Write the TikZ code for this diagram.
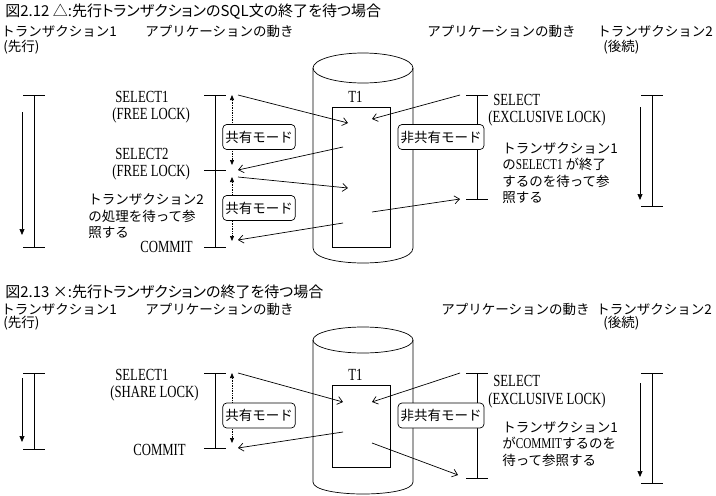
\documentclass[tikz,border=0pt]{standalone}
\usepackage{fontspec}
\usepackage{tikz}
\usetikzlibrary{arrows.meta}
\newfontfamily\jpfont{Noto Sans CJK JP}
\newfontfamily\ttlfont[RawFeature=+palt]{Noto Sans CJK JP}
\newfontfamily\latfont[FakeStretch=0.75]{Liberation Serif}
\newcommand{\jpn}{\jpfont\fontsize{13.5}{16.5}\selectfont}
\newcommand{\ttln}{\ttlfont\fontsize{15}{16}\selectfont}
\newcommand{\latn}{\latfont\fontsize{17}{16.5}\selectfont}
\newcommand{\latb}[1]{{\latfont\fontsize{15}{16.5}\selectfont #1}}

\begin{document}
\begin{tikzpicture}[x=1pt,y=-1pt,line width=0.7pt,>={Straight Barb[length=5pt,width=8pt]},
  lbl/.style={inner sep=0pt,anchor=west,font=\jpn,align=left},
  cmd/.style={inner sep=0pt,anchor=west,font=\latn,text height=12pt,text depth=1pt},
  mode/.style={draw,rounded corners=4pt,fill=white,inner sep=2.5pt,minimum height=25pt,font=\jpn},
  span/.style={densely dotted,{Triangle[length=5pt,width=4pt]}-{Triangle[length=5pt,width=4pt]}},
  flow/.style={-{Triangle[length=6pt,width=5pt]}}]
  \useasboundingbox (0,0) rectangle (716,496);
  % ---------- Fig 2.12
  \node[lbl,font=\ttln] (ttlA) at (5,11.5) {図2.12 △:先行トランザクションのSQL文の終了を待つ場合};
  \node[lbl] (t1A) at (1,31) {トランザクション1};
  \node[lbl] (s1A) at (3,47) {(先行)};
  \node[lbl] (apLA) at (145,31) {アプリケーションの動き};
  \node[lbl] (apRA) at (427,31) {アプリケーションの動き};
  \node[lbl] (t2A) at (597,31) {トランザクション2};
  \node[lbl] (s2A) at (603,47) {(後続)};
  % table T1 in a cylinder
  \draw (363,68) ellipse [x radius=50,y radius=15];
  \draw (313,68)--(313,248) .. controls (313,268) and (413,268) .. (413,248)--(413,68);
  \draw (332,107) rectangle (390,247);
  \node[cmd] (tabA) at (348,97) {T1};
  % time lines
  \foreach \x/\a/\b in {34/95/247,215/95/247,477/95/199,652/95/206}
    {\draw (\x-11,\a)--(\x+11,\a) (\x,\a)--(\x,\b) (\x-11,\b)--(\x+11,\b);}
  \draw (204,170)--(226,170);
  \coordinate (l1A) at (22,112); \coordinate (l2A) at (22,235);
  \coordinate (r1A) at (640,107); \coordinate (r2A) at (640,200);
  \draw[flow] (l1A)--(l2A);
  \draw[flow] (r1A)--(r2A);
  % shared / exclusive spans
  \coordinate (m1A) at (232,95); \coordinate (m2A) at (232,165);
  \coordinate (m3A) at (232,177); \coordinate (m4A) at (232,241);
  \draw[span] (m1A)--(m2A);
  \draw[span] (m3A)--(m4A);
  \node[mode] (shA) at (259,137) {共有モード};
  \node[mode] (sh2A) at (259,208) {共有モード};
  \node[mode] (exA) at (441,137) {非共有モード};
  % statements
  \node[cmd] (sel1A) at (115,97) {SELECT1};
  \node[cmd] (fl1A) at (112,114) {(FREE LOCK)};
  \node[cmd] (sel2A) at (115,154) {SELECT2};
  \node[cmd] (fl2A) at (112,171) {(FREE LOCK)};
  \node[lbl] (wt1A) at (88,216.5) {トランザクション2\\の処理を待って参\\照する};
  \node[cmd] (comA) at (140,247) {COMMIT};
  \node[cmd] (selA) at (493,100) {SELECT};
  \node[cmd] (xlA) at (488,117) {(EXCLUSIVE LOCK)};
  \node[lbl] (wt2A) at (502,173) {トランザクション1\\の\latb{SELECT1} が終了\\するのを待って参\\照する};
  % requests and results
  \coordinate (a1) at (238,95);  \coordinate (b1) at (348,123);
  \coordinate (b2) at (343,147); \coordinate (a2) at (238,170);
  \coordinate (a3) at (238,177); \coordinate (b3) at (348,188);
  \coordinate (b4) at (343,223); \coordinate (a4) at (238,240);
  \coordinate (c1) at (460,95);  \coordinate (d1) at (372,119);
  \coordinate (d2) at (372,212); \coordinate (c2) at (460,199);
  \draw[->] (a1)--(b1);
  \draw[->] (b2)--(a2);
  \draw[->] (a3)--(b3);
  \draw[->] (b4)--(a4);
  \draw[->] (c1)--(d1);
  \draw[->] (d2)--(c2);
  % ---------- Fig 2.13
  \node[lbl,font=\ttln] (ttlB) at (5,291.5) {図2.13 ×:先行トランザクションの終了を待つ場合};
  \node[lbl] (t1B) at (1,309) {トランザクション1};
  \node[lbl] (s1B) at (3,323) {(先行)};
  \node[lbl] (apLB) at (145,309) {アプリケーションの動き};
  \node[lbl] (apRB) at (441,309) {アプリケーションの動き};
  \node[lbl] (t2B) at (596,309) {トランザクション2};
  \node[lbl] (s2B) at (603,323) {(後続)};
  % table T1 in a cylinder
  \draw (363,340) ellipse [x radius=50,y radius=13];
  \draw (313,340)--(313,482) .. controls (313,498) and (413,498) .. (413,482)--(413,340);
  \draw (332,385) rectangle (390,467);
  \node[cmd] (tabB) at (348,375) {T1};
  % time lines
  \foreach \x/\a/\b in {34/373/449,215/373/448,477/373/478,652/373/483}
    {\draw (\x-11,\a)--(\x+11,\a) (\x,\a)--(\x,\b) (\x-11,\b)--(\x+11,\b);}
  \coordinate (l1B) at (22,378); \coordinate (l2B) at (22,442);
  \coordinate (r1B) at (640,383); \coordinate (r2B) at (640,477);
  \draw[flow] (l1B)--(l2B);
  \draw[flow] (r1B)--(r2B);
  % shared / exclusive spans
  \coordinate (m1B) at (232,373); \coordinate (m2B) at (232,443);
  \draw[span] (m1B)--(m2B);
  \node[mode] (shB) at (259,415.5) {共有モード};
  \node[mode] (exB) at (441,415.5) {非共有モード};
  % statements
  \node[cmd] (sel1B) at (115,375) {SELECT1};
  \node[cmd] (slB) at (110,392) {(SHARE LOCK)};
  \node[cmd] (comB) at (133,450) {COMMIT};
  \node[cmd] (selB) at (493,381) {SELECT};
  \node[cmd] (xlB) at (488,399) {(EXCLUSIVE LOCK)};
  \node[lbl] (wt2B) at (502,444) {トランザクション1\\が\latb{COMMIT}するのを\\待って参照する};
  % requests and results
  \coordinate (e1) at (238,373); \coordinate (f1) at (343,402);
  \coordinate (f2) at (343,432); \coordinate (e2) at (238,448);
  \coordinate (g1) at (460,373); \coordinate (h1) at (372,402);
  \coordinate (h2) at (372,443); \coordinate (g2) at (458,475);
  \draw[->] (e1)--(f1);
  \draw[->] (f2)--(e2);
  \draw[->] (g1)--(h1);
  \draw[->] (h2)--(g2);
\end{tikzpicture}
\end{document}
